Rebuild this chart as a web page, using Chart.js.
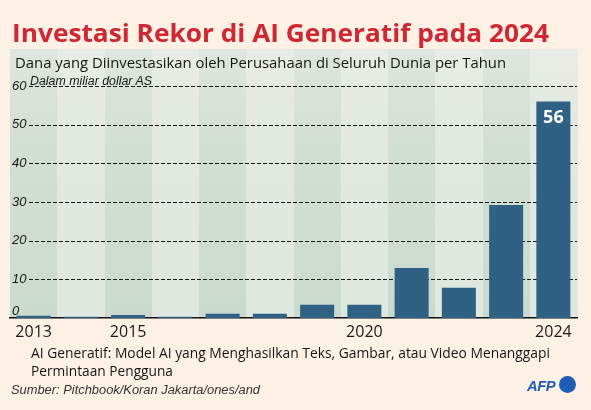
<!DOCTYPE html>
<html><head><meta charset="utf-8">
<script src="https://cdn.jsdelivr.net/npm/chart.js@4/dist/chart.umd.min.js"></script>
<style>
html,body{margin:0;padding:0;background:#fdf1e6;}
#wrap{position:relative;width:591px;height:410px;overflow:hidden;background:#fdf1e6;}
canvas{position:absolute;left:0;top:0;}
.t{position:absolute;white-space:nowrap;line-height:1;transform-origin:0 0;}
</style></head><body>
<div id="wrap">
<canvas id="c" width="591" height="410"></canvas>
<div class="t fit" data-w="537" style="left:12px;top:14.6px;font:700 25px 'Open Sans';color:#d02832;">Investasi Rekor di AI Generatif pada 2024</div>
<div class="t fit" data-w="491" style="left:15px;top:52.4px;font:400 15px 'Open Sans';color:#151515;">Dana yang Diinvestasikan oleh Perusahaan di Seluruh Dunia per Tahun</div>
<div class="t fit" data-w="122" style="left:30px;top:74.4px;font:italic 400 12px 'Liberation Sans';color:#151515;">Dalam miliar dollar AS</div>
<div class="t fit" data-w="519" style="left:31px;top:342.4px;font:400 15px 'Open Sans';color:#151515;">AI Generatif: Model AI yang Menghasilkan Teks, Gambar, atau Video Menanggapi</div>
<div class="t fit" data-w="142" style="left:31px;top:359.7px;font:400 15px 'Open Sans';color:#151515;">Permintaan Pengguna</div>
<div class="t fit" data-w="249" style="left:11px;top:382.7px;font:italic 400 12px 'Liberation Sans';color:#333;">Sumber: Pitchbook/Koran Jakarta/ones/and</div>
<div class="t fit" data-w="28" style="left:527px;top:378px;font:italic 900 14px 'Liberation Sans';color:#1f5cb5;letter-spacing:-0.5px;">AFP</div>
<div style="position:absolute;left:559px;top:376px;width:17px;height:17px;border-radius:50%;background:#1f5cb5;"></div>
</div>
<script>
const years = ['2013','2014','2015','2016','2017','2018','2019','2020','2021','2022','2023','2024'];
const investment = [0.6, 0.3, 0.8, 0.3, 1.1, 1.1, 3.4, 3.4, 12.9, 7.8, 29.2, 56];
const yTicks = [0, 10, 20, 30, 40, 50, 60];
const shownYearLabels = ['2013', '2015', '2020', '2024'];
const labeledYears = ['2024'];

document.querySelectorAll('.fit').forEach(el => {
  const w = el.getBoundingClientRect().width;
  const target = parseFloat(el.dataset.w);
  if (w > 0) el.style.transform = 'scaleX(' + (target / w) + ')';
});

const bgPlugin = {
  id: 'bgcols',
  beforeDraw(chart) {
    const {ctx, chartArea, scales: {x}} = chart;
    const n = years.length;
    const cw = (chartArea.right - chartArea.left) / n;
    const top = 49, bottom = chartArea.bottom;
    years.forEach((yr, i) => {
      const cx = x.getPixelForValue(i);
      const g = ctx.createLinearGradient(0, top, 0, bottom);
      if (i % 2 === 0) { g.addColorStop(0, '#dfe6dd'); g.addColorStop(0.35, '#d2dfd5'); g.addColorStop(1, '#cbdacf'); }
      else { g.addColorStop(0, '#e8ece5'); g.addColorStop(0.35, '#e1e9e1'); g.addColorStop(1, '#dde8df'); }
      ctx.save();
      ctx.fillStyle = g;
      ctx.fillRect(Math.round(cx - cw / 2), top, Math.round(cw + 0.5), bottom - top);
      ctx.restore();
    });
  },
  beforeDatasetsDraw(chart) {
    const {ctx, chartArea, scales: {y}} = chart;
    ctx.save();
    ctx.strokeStyle = '#1a1a1a';
    ctx.lineWidth = 1;
    ctx.setLineDash([4, 2]);
    yTicks.forEach(v => {
      if (v === 0) return;
      const py = Math.round(y.getPixelForValue(v)) + 0.5;
      ctx.beginPath();
      ctx.moveTo(29, py);
      ctx.lineTo(chartArea.right, py);
      ctx.stroke();
    });
    ctx.setLineDash([]);
    ctx.fillStyle = '#1a1a1a';
    ctx.font = 'italic 13px "Liberation Sans"';
    ctx.textAlign = 'left';
    ctx.textBaseline = 'middle';
    yTicks.forEach(v => {
      let py = y.getPixelForValue(v);
      if (v === 0) py -= 7;
      ctx.fillText(String(v), 12, py);
    });
    ctx.restore();
  },
  afterDatasetsDraw(chart) {
    const {ctx} = chart;
    const meta = chart.getDatasetMeta(0);
    ctx.save();
    ctx.fillStyle = '#ffffff';
    ctx.font = '700 18px "Open Sans"';
    ctx.textAlign = 'center';
    ctx.textBaseline = 'alphabetic';
    years.forEach((yr, i) => {
      if (!labeledYears.includes(yr)) return;
      const bar = meta.data[i];
      ctx.fillText(String(investment[i]), bar.x, bar.y + 22);
    });
    ctx.restore();
  }
};

new Chart(document.getElementById('c').getContext('2d'), {
  type: 'bar',
  data: {
    labels: years,
    datasets: [{
      data: investment,
      backgroundColor: '#2e6183',
      barPercentage: 0.72,
      categoryPercentage: 1
    }]
  },
  options: {
    responsive: false,
    animation: false,
    devicePixelRatio: 1,
    layout: {padding: {left: 10, right: 14, top: 86, bottom: 62}},
    plugins: {legend: {display: false}, tooltip: {enabled: false}, title: {display: false}},
    scales: {
      x: {
        z: 1,
        grid: {display: false, drawTicks: false},
        border: {display: true, color: '#111111', width: 1.5},
        ticks: {
          autoSkip: false, maxRotation: 0, padding: 5, color: '#1a1a1a',
          font: {family: 'Open Sans', size: 16},
          callback: (v, i) => shownYearLabels.includes(years[i]) ? years[i] : ''
        },
        afterFit: s => { s.height = 30; }
      },
      y: {display: false, min: 0, max: 60}
    }
  },
  plugins: [bgPlugin]
});
</script>
</body></html>
